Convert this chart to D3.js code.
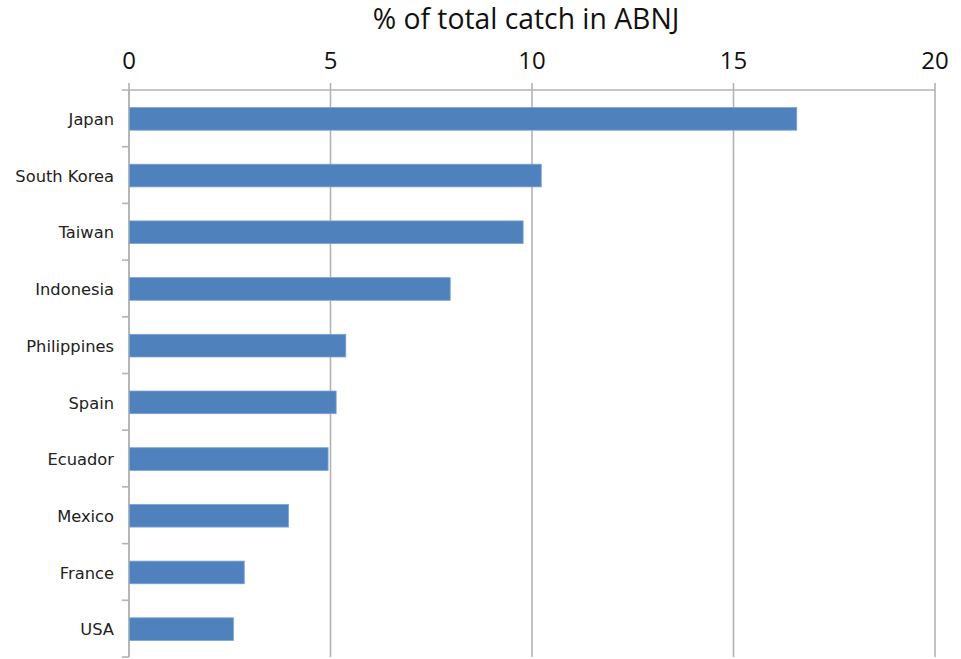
<!DOCTYPE html>
<html><head><meta charset="utf-8">
<script src="https://cdn.jsdelivr.net/npm/d3@7"></script>
<style>body{margin:0;background:#fff}svg{display:block}</style>
</head><body>
<svg id="c" width="961" height="659"></svg>
<script>
const categories = ["Japan","South Korea","Taiwan","Indonesia","Philippines","Spain","Ecuador","Mexico","France","USA"];
const values = [16.57,10.23,9.78,7.97,5.38,5.14,4.94,3.96,2.86,2.59];
const xTicks = [0,5,10,15,20];
const title = "% of total catch in ABNJ";

const svg = d3.select("#c");
const m = {left:129, right:935, top:90, bottom:657};
const x = d3.scaleLinear().domain([0,20]).range([m.left,m.right]);
const y = d3.scaleBand().domain(categories).range([m.top,m.bottom]).paddingInner(0.6).paddingOuter(0.3);
const grid = "#b3b3b3";

svg.append("g").selectAll("line").data(xTicks).join("line")
  .attr("x1",d=>x(d)).attr("x2",d=>x(d)).attr("y1",83).attr("y2",m.bottom)
  .attr("stroke",grid).attr("stroke-width",1.6);
svg.append("line").attr("x1",122).attr("x2",m.right).attr("y1",m.top).attr("y2",m.top)
  .attr("stroke",grid).attr("stroke-width",1.6);
svg.append("line").attr("x1",m.left).attr("x2",m.left).attr("y1",m.top).attr("y2",m.bottom)
  .attr("stroke",grid).attr("stroke-width",1.6);
const step = (m.bottom-m.top)/categories.length;
svg.append("g").selectAll("line").data(d3.range(1,categories.length+1)).join("line")
  .attr("x1",122).attr("x2",m.left).attr("y1",d=>m.top+d*step).attr("y2",d=>m.top+d*step)
  .attr("stroke",grid).attr("stroke-width",1.6);

svg.append("g").selectAll("text").data(xTicks).join("text")
  .attr("x",d=>x(d)).attr("y",69).attr("text-anchor","middle")
  .attr("font-family","'Open Sans', sans-serif").attr("font-size",24).attr("fill","#111")
  .text(d=>d);

svg.append("text").attr("x",526).attr("y",29).attr("text-anchor","middle")
  .attr("font-family","'Open Sans', sans-serif").attr("font-size",28.3).attr("fill","#111")
  .text(title);

svg.append("g").selectAll("rect").data(categories).join("rect")
  .attr("x",x(0)+0.5).attr("y",d=>y(d)+0.5)
  .attr("width",(d,i)=>x(values[i])-x(0)-0.5).attr("height",y.bandwidth())
  .attr("fill","#4f81bd").attr("stroke","#7ea3d2").attr("stroke-width",0.8);

svg.append("g").selectAll("text").data(categories).join("text")
  .attr("x",114).attr("y",d=>y(d)+y.bandwidth()/2+1).attr("dy","0.35em")
  .attr("text-anchor","end").attr("font-family","'DejaVu Sans', Verdana, sans-serif")
  .attr("font-size",16.3).attr("fill","#222").text(d=>d);
</script>
</body></html>
